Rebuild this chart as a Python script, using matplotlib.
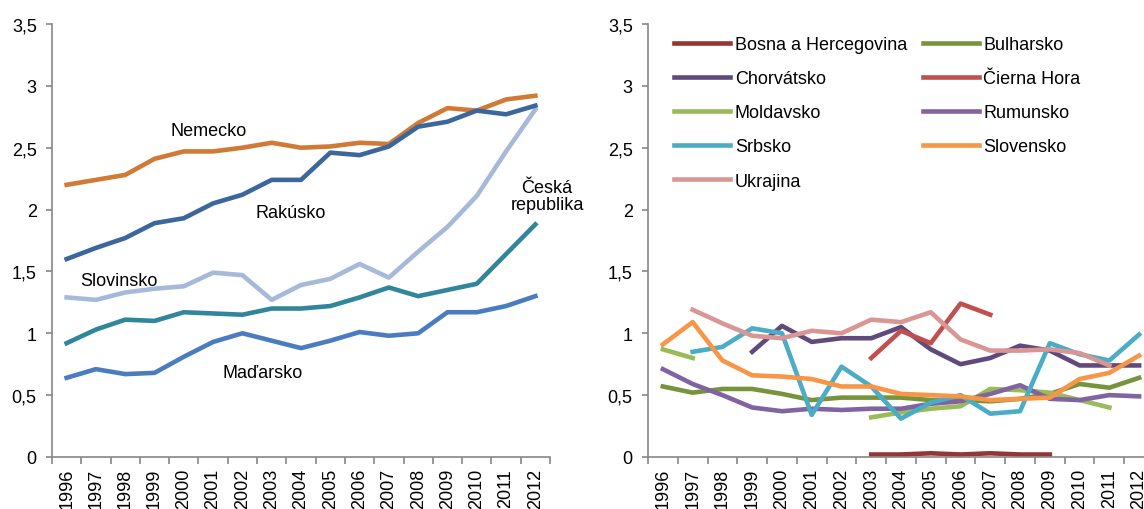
import numpy as np
import matplotlib.pyplot as plt

plt.rcParams['font.family'] = ['Liberation Sans', 'DejaVu Sans']

years = [str(y) for y in range(1996, 2013)]
nan = np.nan

# left panel
nemecko = [2.20, 2.24, 2.28, 2.41, 2.47, 2.47, 2.50, 2.54, 2.50, 2.51, 2.54, 2.53, 2.70, 2.82, 2.80, 2.89, 2.92]
rakusko = [1.60, 1.69, 1.77, 1.89, 1.93, 2.05, 2.12, 2.24, 2.24, 2.46, 2.44, 2.51, 2.67, 2.71, 2.80, 2.77, 2.84]
slovinsko = [1.29, 1.27, 1.33, 1.36, 1.38, 1.49, 1.47, 1.27, 1.39, 1.44, 1.56, 1.45, 1.66, 1.86, 2.11, 2.47, 2.81]
cesko = [0.92, 1.03, 1.11, 1.10, 1.17, 1.16, 1.15, 1.20, 1.20, 1.22, 1.29, 1.37, 1.30, 1.35, 1.40, 1.64, 1.88]
madarsko = [0.64, 0.71, 0.67, 0.68, 0.81, 0.93, 1.00, 0.94, 0.88, 0.94, 1.01, 0.98, 1.00, 1.17, 1.17, 1.22, 1.30]

# right panel
bosna = [nan] * 7 + [0.02, 0.02, 0.03, 0.02, 0.03, 0.02, 0.02] + [nan] * 3
bulharsko = [0.57, 0.52, 0.55, 0.55, 0.51, 0.46, 0.48, 0.48, 0.48, 0.46, 0.46, 0.45, 0.47, 0.51, 0.59, 0.56, 0.64]
chorvatsko = [nan, nan, nan, 0.85, 1.06, 0.93, 0.96, 0.96, 1.05, 0.87, 0.75, 0.80, 0.90, 0.86, 0.74, 0.74, 0.74]
cierna_hora = [nan] * 7 + [0.80, 1.02, 0.92, 1.24, 1.15] + [nan] * 5
moldavsko = [0.87, 0.80, nan, nan, nan, nan, nan, 0.32, 0.36, 0.39, 0.41, 0.55, 0.54, 0.52, 0.46, 0.40, nan]
rumunsko = [0.71, 0.59, 0.50, 0.40, 0.37, 0.39, 0.38, 0.39, 0.39, 0.43, 0.45, 0.51, 0.58, 0.47, 0.46, 0.50, 0.49]
srbsko = [nan, 0.85, 0.89, 1.04, 1.00, 0.34, 0.73, 0.57, 0.31, 0.44, 0.50, 0.35, 0.37, 0.92, 0.83, 0.78, 0.99]
slovensko = [0.91, 1.09, 0.78, 0.66, 0.65, 0.63, 0.57, 0.57, 0.51, 0.50, 0.49, 0.46, 0.47, 0.48, 0.63, 0.68, 0.82]
ukrajina = [nan, 1.19, 1.08, 0.98, 0.96, 1.02, 1.00, 1.11, 1.09, 1.17, 0.95, 0.86, 0.86, 0.87, 0.84, 0.74, nan]

grey = '#868686'
lw = 3.3
fs = 13
x = np.arange(len(years))


def style_axes(ax):
    ax.set_xlim(-0.5, len(years) - 0.5)
    ax.set_ylim(0, 3.5)
    for s in ['top', 'right']:
        ax.spines[s].set_visible(False)
    for s in ['left', 'bottom']:
        ax.spines[s].set_color(grey)
        ax.spines[s].set_linewidth(1.2)
    ax.set_yticks(np.arange(0, 3.51, 0.5))
    ax.set_yticklabels(['0', '0,5', '1', '1,5', '2', '2,5', '3', '3,5'], fontsize=fs)
    ax.tick_params(axis='y', length=4, color=grey, width=1.2, pad=7)
    ax.set_xticks(x)
    ax.set_xticklabels(years, rotation=90, fontsize=fs)
    ax.tick_params(axis='x', which='major', length=0, pad=8)
    ax.set_xticks(np.arange(-0.5, len(years)), minor=True)
    ax.tick_params(axis='x', which='minor', length=5, color=grey, width=1.2)


fig = plt.figure(figsize=(11.44, 5.1), dpi=100)

ax1 = fig.add_axes([52 / 1144, 0.102, 498 / 1144, 0.849])
ax1.plot(x, nemecko, color='#D07A35', lw=lw)
ax1.plot(x, slovinsko, color='#A7B9D9', lw=lw)
ax1.plot(x, rakusko, color='#3B679C', lw=lw)
ax1.plot(x, cesko, color='#31869B', lw=lw)
ax1.plot(x, madarsko, color='#4A7DC0', lw=lw)
style_axes(ax1)

txt = dict(fontsize=fs, ha='center', va='center')
ax1.text(4.86, 2.64, 'Nemecko', **txt)
ax1.text(7.66, 1.98, 'Rakúsko', **txt)
ax1.text(1.79, 1.43, 'Slovinsko', **txt)
ax1.text(16.4, 2.11, 'Česká\nrepublika', linespacing=1.05, **txt)
ax1.text(6.70, 0.68, 'Maďarsko', **txt)

ax2 = fig.add_axes([648 / 1144, 0.102, 506 / 1144, 0.849])
series = [
    ('Bosna a Hercegovina', bosna, '#943634'),
    ('Bulharsko', bulharsko, '#77933C'),
    ('Chorvátsko', chorvatsko, '#604A7B'),
    ('Čierna Hora', cierna_hora, '#C0504D'),
    ('Moldavsko', moldavsko, '#9BBB59'),
    ('Rumunsko', rumunsko, '#8064A2'),
    ('Srbsko', srbsko, '#4BACC6'),
    ('Slovensko', slovensko, '#F79646'),
    ('Ukrajina', ukrajina, '#D99694'),
]
handles = []
for name, vals, col in series:
    h, = ax2.plot(x, vals, color=col, lw=lw, label=name)
    handles.append(h)
style_axes(ax2)

# legend is filled row-wise in the original, matplotlib fills by column
order = [0, 2, 4, 6, 8, 1, 3, 5, 7]
ax2.legend([handles[i] for i in order], [series[i][0] for i in order],
           ncol=2, loc='upper left', bbox_to_anchor=(0.02, 1.01), frameon=False,
           fontsize=fs, handlelength=3.1, handletextpad=0.25, columnspacing=0.87,
           labelspacing=0.95)

fig.savefig('out.png', dpi=100)
